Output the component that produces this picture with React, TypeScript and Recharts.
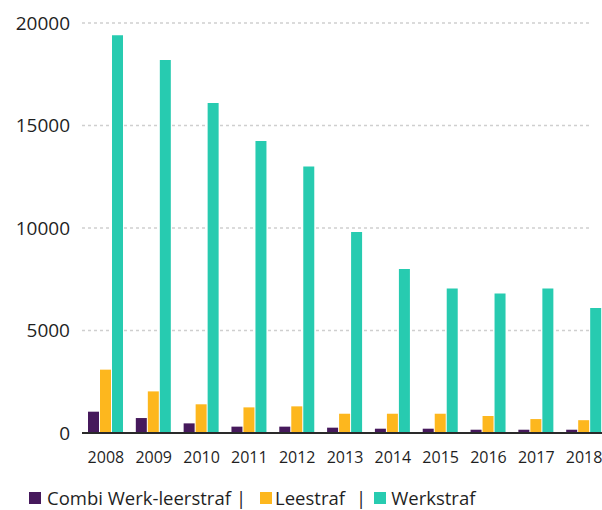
import { Bar, BarChart, CartesianGrid, Legend, XAxis, YAxis } from "recharts";

const years = ["2008", "2009", "2010", "2011", "2012", "2013", "2014", "2015", "2016", "2017", "2018"];
const combi = [1040, 730, 470, 310, 310, 260, 210, 210, 160, 160, 160];
const leestraf = [3090, 2030, 1400, 1250, 1300, 940, 940, 940, 830, 680, 625];
const werkstraf = [19400, 18200, 16100, 14250, 13000, 9800, 8000, 7050, 6800, 7050, 6100];
const yTicks = [0, 5000, 10000, 15000, 20000];

const series = [
  { key: "combi", name: "Combi Werk-leerstraf", color: "#46195c" },
  { key: "leestraf", name: "Leestraf", color: "#fdb71e" },
  { key: "werkstraf", name: "Werkstraf", color: "#27cbb0" },
];

const data = years.map((year, i) => ({
  year,
  combi: combi[i],
  leestraf: leestraf[i],
  werkstraf: werkstraf[i],
}));

const FONT = "'Open Sans', 'Noto Sans', sans-serif";
const INK = "#1f1f1f";

function GridLine(props: any) {
  const { x1, x2, y1, y2 } = props;
  return (
    <line key={props.key} x1={x1} x2={x2 - 18} y1={y1} y2={y2} stroke="#cfcfcf" strokeWidth={1.5} strokeDasharray="3 3" />
  );
}

// legend spacing: square->text, text->"|", after the entry
const squareGaps = [6, 3, 5];
const sepGaps = [5, 11];
const afterGaps = [14, 8];

function LegendRow() {
  return (
    <div
      style={{
        height: 40,
        display: "flex",
        alignItems: "flex-end",
        paddingLeft: 21,
        fontFamily: FONT,
        fontSize: 18.5,
        color: INK,
        lineHeight: "24px",
        whiteSpace: "nowrap",
      }}
    >
      {series.map((s, i) => (
        <span key={s.key} style={{ display: "inline-flex", alignItems: "center", marginRight: afterGaps[i] ?? 0 }}>
          <span
            style={{ width: 12, height: 12, background: s.color, display: "inline-block", marginRight: squareGaps[i] }}
          />
          <span>{s.name}</span>
          {i < series.length - 1 && <span style={{ marginLeft: sepGaps[i] }}>|</span>}
        </span>
      ))}
    </div>
  );
}

export default function App() {
  return (
    <div style={{ position: "absolute", left: 8, top: 8, width: 594, height: 502, overflow: "hidden" }}>
      <BarChart
        width={620}
        height={502}
        data={data}
        margin={{ top: 15, right: 20, left: 0, bottom: 0 }}
        barSize={11}
        barGap={1}
      >
        <CartesianGrid vertical={false} horizontal={GridLine} />
        <XAxis
          dataKey="year"
          interval={0}
          tickLine={false}
          axisLine={{ stroke: "#2a2a2a", strokeWidth: 2 }}
          tick={{ fontSize: 16, fill: INK, fontFamily: FONT }}
          tickMargin={13}
          height={37}
        />
        <YAxis
          domain={[0, 20000]}
          ticks={yTicks}
          axisLine={false}
          tickLine={false}
          width={74}
          tickMargin={6}
          tick={{ fontSize: 19, fill: INK, fontFamily: FONT }}
        />
        <Legend
          verticalAlign="bottom"
          height={40}
          wrapperStyle={{ left: 0, width: 594, height: 40 }}
          content={() => <LegendRow />}
        />
        {series.map((s) => (
          <Bar key={s.key} dataKey={s.key} name={s.name} fill={s.color} isAnimationActive={false} />
        ))}
      </BarChart>
    </div>
  );
}
